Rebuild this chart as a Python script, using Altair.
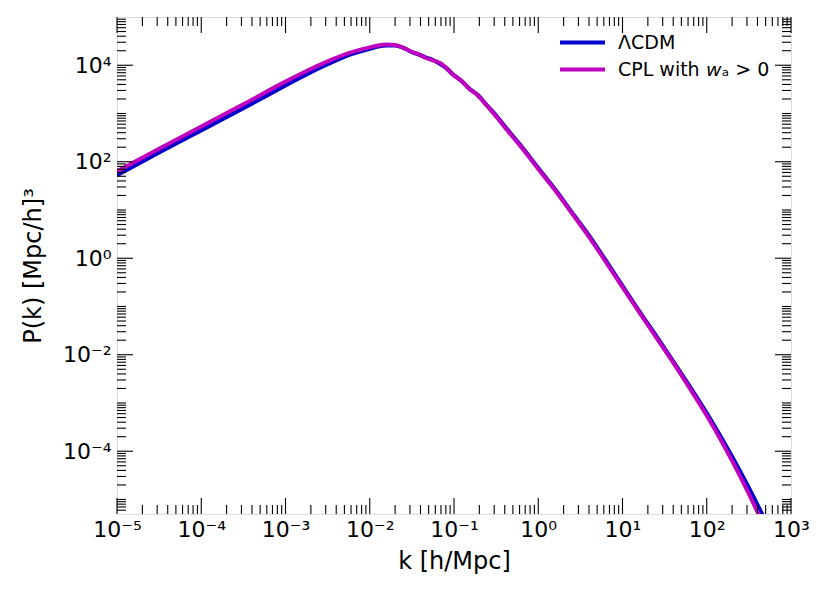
import altair as alt
import pandas as pd
import numpy as np

# ---------------- data (log10 units) ----------------
series_names = ["ΛCDM", "CPL with 𝘸ₐ > 0"]
series_colors = ["#0000cd", "#bf00bf"]

log_k = [-5.0, -4.5, -4.0, -3.5, -3.0, -2.75, -2.5, -2.25, -2.0, -1.9, -1.8, -1.7,
         -1.6, -1.5, -1.4, -1.33, -1.25, -1.17, -1.1, -1.0, -0.95, -0.9, -0.82,
         -0.72, -0.6, -0.5, -0.4, -0.2, 0.0, 0.2, 0.4, 0.6, 0.8, 1.0, 1.2, 1.4,
         1.6, 1.8, 2.0, 2.2, 2.4, 2.6, 2.8]

log_p_lcdm = [1.72, 2.19, 2.65, 3.11, 3.58, 3.81, 4.02, 4.21, 4.34, 4.39, 4.41, 4.41,
              4.36, 4.27, 4.21, 4.16, 4.11, 4.03, 3.95, 3.79, 3.73, 3.66, 3.52,
              3.39, 3.15, 2.96, 2.74, 2.32, 1.87, 1.43, 0.95, 0.48, -0.04, -0.57,
              -1.10, -1.61, -2.13, -2.66, -3.21, -3.80, -4.43, -5.10, -5.83]

log_p_cpl = [1.80, 2.27, 2.73, 3.19, 3.66, 3.88, 4.08, 4.25, 4.37, 4.41, 4.43, 4.42,
             4.36, 4.28, 4.21, 4.15, 4.10, 4.05, 3.96, 3.79, 3.73, 3.66, 3.51,
             3.38, 3.14, 2.94, 2.72, 2.30, 1.85, 1.41, 0.93, 0.45, -0.07, -0.60,
             -1.12, -1.64, -2.16, -2.70, -3.26, -3.87, -4.53, -5.25, -6.03]

x_domain = [1e-5, 1e3]
y_domain = [5e-6, 1e5]

x_major = [1e-5, 1e-4, 1e-3, 1e-2, 1e-1, 1e0, 1e1, 1e2, 1e3]
x_tick_labels = ["10⁻⁵", "10⁻⁴", "10⁻³", "10⁻²", "10⁻¹", "10⁰", "10¹", "10²", "10³"]
y_major = [1e-4, 1e-2, 1e0, 1e2, 1e4]
y_tick_labels = ["10⁻⁴", "10⁻²", "10⁰", "10²", "10⁴"]

x_minor = [m * 10.0 ** n for n in range(-5, 3) for m in range(2, 10)]
y_minor = [m * 10.0 ** n for n in range(-6, 5) for m in range(1, 10)
           if 5e-6 <= m * 10.0 ** n < 1e5 and not (m == 1 and n in (-4, -2, 0, 2, 4))]

# ---------------- tables ----------------
rows = []
for name, vals in ((series_names[0], log_p_lcdm), (series_names[1], log_p_cpl)):
    for lk, lp in zip(log_k, vals):
        rows.append({"k": 10.0 ** lk, "P": 10.0 ** lp, "series": name})
df = pd.DataFrame(rows)

W, H = 674, 497
MAJ, MIN = 16, 9

xs = alt.Scale(type="log", domain=x_domain, nice=False)
ys = alt.Scale(type="log", domain=y_domain, nice=False)

x_label_expr = "[" + ",".join("'%s'" % s for s in x_tick_labels) + "][round(log(datum.value)/LN10)+5]"
y_label_expr = "[" + ",".join("'%s'" % s for s in y_tick_labels) + "][round((log(datum.value)/LN10+4)/2)]"

XAX = alt.Axis(values=x_major, labelExpr=x_label_expr, ticks=False, tickSize=0,
               domain=False, grid=False, labelFontSize=22, labelPadding=5,
               labelFlush=False, labelOverlap=False,
               labelColor="black", labelFont="DejaVu Sans",
               title="k [h/Mpc]", titleFontSize=24, titleFontWeight="normal",
               titleFont="DejaVu Sans", titleColor="black",
               titleBaseline="alphabetic", titleY=54)
YAX = alt.Axis(values=y_major, labelExpr=y_label_expr, ticks=False, tickSize=0,
               domain=False, grid=False, labelFontSize=22, labelPadding=6,
               labelFlush=False, labelOverlap=False,
               labelColor="black", labelFont="DejaVu Sans",
               title="P(k)  [Mpc/h]³", titleFontSize=24, titleFontWeight="normal",
               titleFont="DejaVu Sans", titleColor="black",
               titleBaseline="alphabetic", titleX=-77)

color = alt.Color(
    "series:N",
    scale=alt.Scale(domain=series_names, range=series_colors),
    sort=series_names,
    legend=alt.Legend(
        title=None, orient="none", legendX=452, legendY=12,
        symbolType="M-2,0H2", symbolSize=506, symbolStrokeWidth=4,
        labelFontSize=19, labelFont="DejaVu Sans", labelColor="black",
        labelOffset=22, rowPadding=3, padding=0, labelLimit=400,
    ),
)

base = alt.Chart(df)


def line_layer(name):
    return base.transform_filter(alt.datum.series == name).mark_line(
        strokeWidth=4, clip=True, interpolate="monotone"
    ).encode(
        x=alt.X("k:Q", scale=xs, axis=XAX, title="k [h/Mpc]"),
        y=alt.Y("P:Q", scale=ys, axis=YAX, title="P(k)  [Mpc/h]³"),
        color=color,
    )


def xticks(vals, length):
    d = pd.DataFrame({"v": vals})
    c = alt.Chart(d)
    enc_x = alt.X("v:Q", scale=xs, axis=XAX, title="k [h/Mpc]")
    bottom = c.mark_rule(color="black", strokeWidth=1.1).encode(
        x=enc_x, y=alt.value(H), y2=alt.value(H - length))
    top = c.mark_rule(color="black", strokeWidth=1.1).encode(
        x=enc_x, y=alt.value(0), y2=alt.value(length))
    return [bottom, top]


def yticks(vals, length):
    d = pd.DataFrame({"v": vals})
    c = alt.Chart(d)
    enc_y = alt.Y("v:Q", scale=ys, axis=YAX, title="P(k)  [Mpc/h]³")
    left = c.mark_rule(color="black", strokeWidth=1.1).encode(
        y=enc_y, x=alt.value(0), x2=alt.value(length))
    right = c.mark_rule(color="black", strokeWidth=1.1).encode(
        y=enc_y, x=alt.value(W), x2=alt.value(W - length))
    return [left, right]


layers = [line_layer(series_names[0]), line_layer(series_names[1])]
layers += xticks(x_major, MAJ) + xticks(x_minor, MIN)
layers += yticks(y_major, MAJ) + yticks(y_minor, MIN)

chart = alt.layer(*layers).properties(
    width=W, height=H,
    autosize=alt.AutoSizeParams(type="none"),
    padding={"left": 109, "top": 9, "right": 20, "bottom": 60},
    background="white",
).configure_view(stroke="black", strokeWidth=1.5).configure(font="DejaVu Sans")

chart.save("out.html", embed_options={"renderer": "svg", "actions": False})
